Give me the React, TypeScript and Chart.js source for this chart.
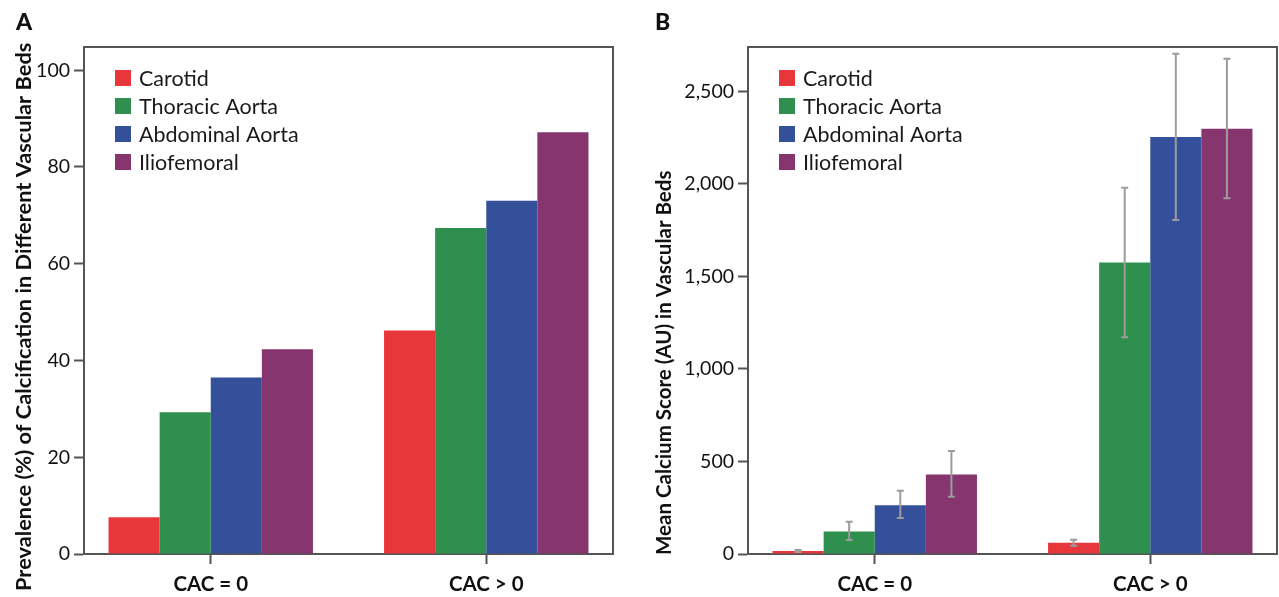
import { useEffect, useRef } from "react";
import { Chart, registerables, CategoryScale } from "chart.js";

// Category axis whose outer margins (in category units) can be set,
// so the category centres sit where they do in the reference figure.
class PaddedCategoryScale extends (CategoryScale as any) {
  static id = "paddedCategory";
  static defaults = (CategoryScale as any).defaults;
  configure() {
    super.configure();
    const edge = this.options.edgeOffset ?? 0.5;
    this._startValue = this.min - edge;
    this._valueRange = this.max - this.min + 2 * edge;
  }
}

Chart.register(...registerables, PaddedCategoryScale as any);

const FONT = "Lato, 'Open Sans', sans-serif";

const categories = ["CAC = 0", "CAC > 0"];
const seriesLabels = ["Carotid", "Thoracic Aorta", "Abdominal Aorta", "Iliofemoral"];
const seriesColors = ["#e8373b", "#2e8f4f", "#34509b", "#86356f"];

// Panel A: prevalence (%)
const prevCarotid = [7.6, 46.2];
const prevThoracic = [29.3, 67.4];
const prevAbdominal = [36.5, 73.0];
const prevIliofemoral = [42.3, 87.2];
const yTicksA = [0, 20, 40, 60, 80, 100];

// Panel B: mean calcium score (AU)
const scoreCarotid = [16, 61];
const scoreThoracic = [122, 1575];
const scoreAbdominal = [264, 2253];
const scoreIliofemoral = [430, 2298];
const lowCarotid = [11, 45];
const highCarotid = [21, 77];
const lowThoracic = [76, 1172];
const highThoracic = [174, 1980];
const lowAbdominal = [194, 1805];
const highAbdominal = [342, 2703];
const lowIliofemoral = [310, 1922];
const highIliofemoral = [556, 2676];
const yTicksB = [0, 500, 1000, 1500, 2000, 2500];

const AXIS = "#555555";

const framePlugin = {
  id: "frame",
  afterDraw(chart: any) {
    const { ctx, chartArea } = chart;
    ctx.save();
    ctx.strokeStyle = AXIS;
    ctx.lineWidth = 2;
    ctx.beginPath();
    ctx.moveTo(chartArea.left, chartArea.top);
    ctx.lineTo(chartArea.right, chartArea.top);
    ctx.lineTo(chartArea.right, chartArea.bottom);
    ctx.stroke();
    ctx.restore();
  },
};

// Vertical y-axis title, drawn reading upwards from a start point below the axis.
const axisTitlePlugin = {
  id: "axisTitle",
  afterDraw(chart: any, _args: any, opts: any) {
    if (!opts || !opts.text) return;
    const { ctx, chartArea } = chart;
    ctx.save();
    ctx.translate(opts.x, chartArea.bottom + opts.startBelow);
    ctx.rotate(-Math.PI / 2);
    ctx.font = `bold ${opts.size}px ${FONT}`;
    ctx.fillStyle = "#111";
    ctx.textAlign = "left";
    ctx.textBaseline = "middle";
    ctx.fillText(opts.text, 0, 0);
    ctx.restore();
  },
};

const legendPlugin = {
  id: "insideLegend",
  afterDraw(chart: any, _args: any, opts: any) {
    const { ctx, chartArea } = chart;
    ctx.save();
    ctx.font = `${opts.fontSize}px ${FONT}`;
    ctx.textBaseline = "middle";
    ctx.textAlign = "left";
    chart.data.datasets.forEach((ds: any, i: number) => {
      const cy = chartArea.top + opts.top + i * opts.rowGap;
      const sx = chartArea.left + opts.boxLeft;
      ctx.fillStyle = ds.backgroundColor;
      ctx.fillRect(sx, cy - opts.box / 2, opts.box, opts.box);
      ctx.fillStyle = "#1a1a1a";
      ctx.fillText(ds.label, chartArea.left + opts.textLeft, cy + 1);
    });
    ctx.restore();
  },
};

const errorBarPlugin = {
  id: "errorBars",
  afterDatasetsDraw(chart: any, _args: any, opts: any) {
    if (!opts || !opts.low) return;
    const { ctx } = chart;
    const y = chart.scales.y;
    ctx.save();
    ctx.strokeStyle = "#9c9c9c";
    ctx.lineWidth = 2;
    chart.data.datasets.forEach((_ds: any, i: number) => {
      const meta = chart.getDatasetMeta(i);
      meta.data.forEach((bar: any, j: number) => {
        const x = bar.x;
        const y1 = y.getPixelForValue(opts.low[i][j]);
        const y2 = y.getPixelForValue(opts.high[i][j]);
        ctx.beginPath();
        ctx.moveTo(x, y1);
        ctx.lineTo(x, y2);
        ctx.moveTo(x - 3.5, y1);
        ctx.lineTo(x + 3.5, y1);
        ctx.moveTo(x - 3.5, y2);
        ctx.lineTo(x + 3.5, y2);
        ctx.stroke();
      });
    });
    ctx.restore();
  },
};

function makeConfig(p: {
  values: number[][];
  ticks: number[];
  max: number;
  title: string;
  titleSize: number;
  titleX: number;
  titleStartBelow: number;
  yWidth: number;
  padRight: number;
  low?: number[][];
  high?: number[][];
}) {
  return {
    type: "bar",
    data: {
      labels: categories,
      datasets: seriesLabels.map((label, i) => ({
        label,
        data: p.values[i],
        backgroundColor: seriesColors[i],
        borderWidth: 0,
        barPercentage: 1,
        categoryPercentage: 0.742,
      })),
    },
    options: {
      responsive: false,
      animation: false,
      layout: { padding: { top: 47, right: p.padRight, left: 0, bottom: 0 } },
      plugins: {
        legend: { display: false },
        tooltip: { enabled: false },
        insideLegend: { fontSize: 21.5, top: 31, rowGap: 28, box: 16, boxLeft: 31, textLeft: 55 },
        axisTitle: { text: p.title, size: p.titleSize, x: p.titleX, startBelow: p.titleStartBelow },
        errorBars: p.low ? { low: p.low, high: p.high } : {},
      },
      scales: {
        x: {
          type: "paddedCategory",
          offset: true,
          edgeOffset: 0.46,
          grid: {
            offset: false,
            drawOnChartArea: false,
            tickLength: 10,
            tickWidth: 2,
            tickColor: AXIS,
          },
          border: { color: AXIS, width: 2 },
          ticks: {
            color: "#111",
            padding: 8,
            font: { family: FONT, size: 20.5, weight: "bold" },
          },
          afterFit: (s: any) => {
            s.height = 43;
          },
        },
        y: {
          min: 0,
          max: p.max,
          grid: {
            drawOnChartArea: false,
            tickLength: 10,
            tickWidth: 2,
            tickColor: AXIS,
          },
          border: { color: AXIS, width: 2 },
          afterBuildTicks: (s: any) => {
            s.ticks = p.ticks.map((v) => ({ value: v }));
          },
          ticks: {
            color: "#111",
            padding: 4,
            font: { family: FONT, size: 19.5 },
            callback: (v: any) => Number(v).toLocaleString("en-US"),
          },
          afterFit: (s: any) => {
            s.width = p.yWidth;
          },
        },
      },
    },
    plugins: p.low
      ? [framePlugin, legendPlugin, axisTitlePlugin, errorBarPlugin]
      : [framePlugin, legendPlugin, axisTitlePlugin],
  };
}

function Panel(props: { config: any; width: number; left: number; letter: string; letterLeft: number }) {
  const ref = useRef<HTMLCanvasElement>(null);
  useEffect(() => {
    const chart = new Chart(ref.current as HTMLCanvasElement, props.config);
    return () => chart.destroy();
  }, []);
  return (
    <div style={{ position: "absolute", left: props.left, top: 0, width: props.width, height: 597 }}>
      <canvas ref={ref} width={props.width} height={597} style={{ display: "block" }} />
      <div
        style={{
          position: "absolute",
          left: props.letterLeft,
          top: 7,
          fontFamily: FONT,
          fontWeight: 900,
          fontSize: 23,
          color: "#111",
          lineHeight: "28px",
        }}
      >
        {props.letter}
      </div>
    </div>
  );
}

export default function App() {
  const configA = makeConfig({
    values: [prevCarotid, prevThoracic, prevAbdominal, prevIliofemoral],
    ticks: yTicksA,
    max: 104.8,
    title: "Prevalence (%) of Calcification in Different Vascular Beds",
    titleSize: 21.8,
    titleX: 23.5,
    titleStartBelow: 37,
    yWidth: 84,
    padRight: 27,
  });
  const configB = makeConfig({
    values: [scoreCarotid, scoreThoracic, scoreAbdominal, scoreIliofemoral],
    ticks: yTicksB,
    max: 2740,
    title: "Mean Calcium Score (AU) in Vascular Beds",
    titleSize: 20.5,
    titleX: 24.3,
    titleStartBelow: 1,
    yWidth: 108,
    padRight: 2,
    low: [lowCarotid, lowThoracic, lowAbdominal, lowIliofemoral],
    high: [highCarotid, highThoracic, highAbdominal, highIliofemoral],
  });
  return (
    <div style={{ position: "absolute", left: 0, top: 0, width: 1279, height: 597, background: "#fff", overflow: "hidden" }}>
      <Panel config={configA} width={640} left={0} letter="A" letterLeft={16} />
      <Panel config={configB} width={639} left={640} letter="B" letterLeft={15} />
    </div>
  );
}
